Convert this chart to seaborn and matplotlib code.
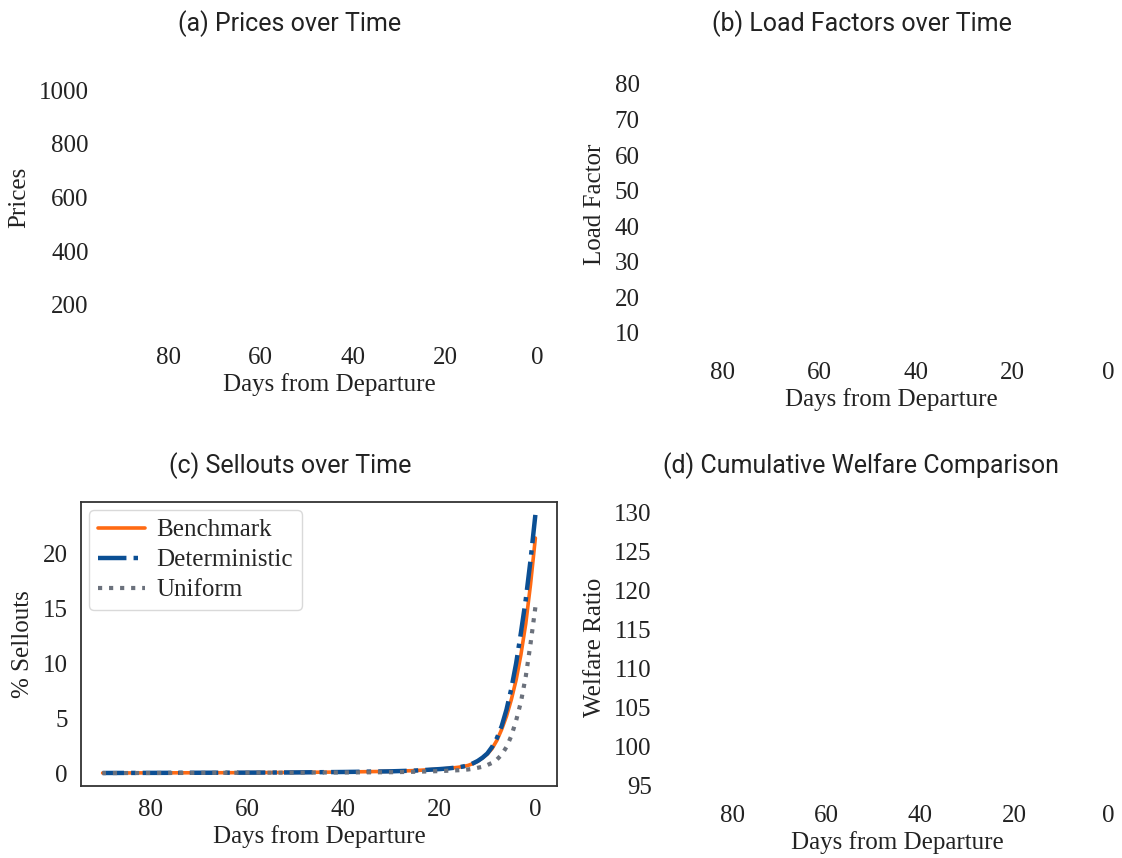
import matplotlib
matplotlib.use("Agg")
import matplotlib.pyplot as plt
import seaborn as sns
import pandas as pd

# ---------------- data ----------------
days = [90, 80, 70, 60, 50, 40, 35, 30, 25, 20, 18, 16, 15, 14, 13, 12, 11, 10,
        9, 8, 7, 6, 5, 4, 3, 2, 1, 0]
benchmark = [0.03, 0.04, 0.05, 0.06, 0.08, 0.12, 0.15, 0.18, 0.25, 0.38, 0.45, 0.55,
             0.62, 0.72, 0.88, 1.1, 1.4, 1.75, 2.25, 3.0, 4.0, 5.2, 6.7, 8.5, 10.8,
             13.6, 17.2, 21.4]
deterministic = [0.03, 0.04, 0.05, 0.06, 0.08, 0.12, 0.15, 0.18, 0.25, 0.38, 0.45, 0.55,
                 0.62, 0.72, 0.9, 1.12, 1.42, 1.8, 2.4, 3.2, 4.3, 5.8, 7.7, 10.0, 12.8,
                 15.8, 19.4, 23.5]
uniform = [0.02, 0.03, 0.04, 0.05, 0.06, 0.08, 0.09, 0.1, 0.14, 0.2, 0.24, 0.28,
           0.31, 0.35, 0.41, 0.5, 0.6, 0.75, 0.95, 1.25, 1.7, 2.4, 3.4, 4.8, 6.5,
           8.8, 11.8, 15.1]
series_names = ["Benchmark", "Deterministic", "Uniform"]

x_ticks = [80, 60, 40, 20, 0]
price_ticks = [200, 400, 600, 800, 1000]
load_ticks = [10, 20, 30, 40, 50, 60, 70, 80]
sellout_ticks = [0, 5, 10, 15, 20]
welfare_ticks = [95, 100, 105, 110, 115, 120, 125, 130]

titles = ["(a) Prices over Time", "(b) Load Factors over Time",
          "(c) Sellouts over Time", "(d) Cumulative Welfare Comparison"]
ylabels = ["Prices", "Load Factor", "% Sellouts", "Welfare Ratio"]
xlabel = "Days from Departure"

# ---------------- style ----------------
sns.set_theme(style="white")
plt.rcParams["font.family"] = ["Liberation Serif", "DejaVu Serif"]
plt.rcParams["font.size"] = 18
plt.rcParams["xtick.labelsize"] = 18
plt.rcParams["ytick.labelsize"] = 18
plt.rcParams["axes.labelsize"] = 18
plt.rcParams["legend.fontsize"] = 18
title_font = dict(family=["Liberation Sans Narrow", "Roboto", "DejaVu Sans"],
                  size=18, color="#222222")

W, H = 1122, 858
fig = plt.figure(figsize=(W / 100, H / 100), dpi=100)


def box(l, t, r, b):
    return [l / W, 1 - b / H, (r - l) / W, (b - t) / H]


ax_a = fig.add_axes(box(102, 60, 557.7, 334))
ax_b = fig.add_axes(box(653, 60, 1130, 349))
ax_c = fig.add_axes(box(81, 502, 557, 786))
ax_d = fig.add_axes(box(665, 502, 1129, 792))

# ---------------- (c) sellouts ----------------
df = pd.DataFrame({
    "day": days * 3,
    "value": benchmark + deterministic + uniform,
    "policy": sum([[n] * len(days) for n in series_names], []),
})
colors = {"Benchmark": "#FF6A13", "Deterministic": "#0B4F94", "Uniform": "#6B717C"}
styles = {"Benchmark": ("-", 2.6), "Deterministic": ("-.", 3.2), "Uniform": (":", 3.0)}
for name in series_names:
    sub = df[df["policy"] == name]
    ls, lw = styles[name]
    sns.lineplot(data=sub, x="day", y="value", ax=ax_c, color=colors[name],
                 linestyle=ls, linewidth=lw, label=name)
ax_c.set_xlim(94.5, -4.5)
ax_c.set_yticks(sellout_ticks)
ax_c.set_xticks(x_ticks)
for s in ax_c.spines.values():
    s.set_color("#333333")
    s.set_linewidth(1.3)
leg = ax_c.legend(loc="upper left", borderaxespad=0.32, labelspacing=0.3,
                  handletextpad=0.45, handlelength=1.9, borderpad=0.35)
leg.get_frame().set_edgecolor("#d0d0d0")

# ---------------- empty panels ----------------
ax_a.set_xlim(94.5, -4.5)
ax_a.set_ylim(92, 1112)
ax_a.set_yticks(price_ticks)
ax_b.set_xlim(94.5, -4.5)
ax_b.set_ylim(5.5, 86.7)
ax_b.set_yticks(load_ticks)
ax_d.set_xlim(94.5, -4.5)
ax_d.set_ylim(94.2, 131.4)
ax_d.set_yticks(welfare_ticks)
for ax in (ax_a, ax_b, ax_d):
    ax.set_xticks(x_ticks)
    sns.despine(ax=ax, left=True, bottom=True)

# ---------------- labels / titles ----------------
title_x = [(290 - 102) / (557.7 - 102), (862 - 653) / (1130 - 653),
           (290 - 81) / (557 - 81), (861 - 665) / (1129 - 665)]
for ax, t, yl, tx in zip((ax_a, ax_b, ax_c, ax_d), titles, ylabels, title_x):
    ax.set_title(t, x=tx, pad=21, fontdict=title_font)
    ax.set_ylabel(yl, color="#222222", labelpad=6)
    ax.set_xlabel(xlabel, color="#222222", labelpad=3)
    ax.tick_params(colors="#222222")

fig.savefig("out.png", dpi=100)
